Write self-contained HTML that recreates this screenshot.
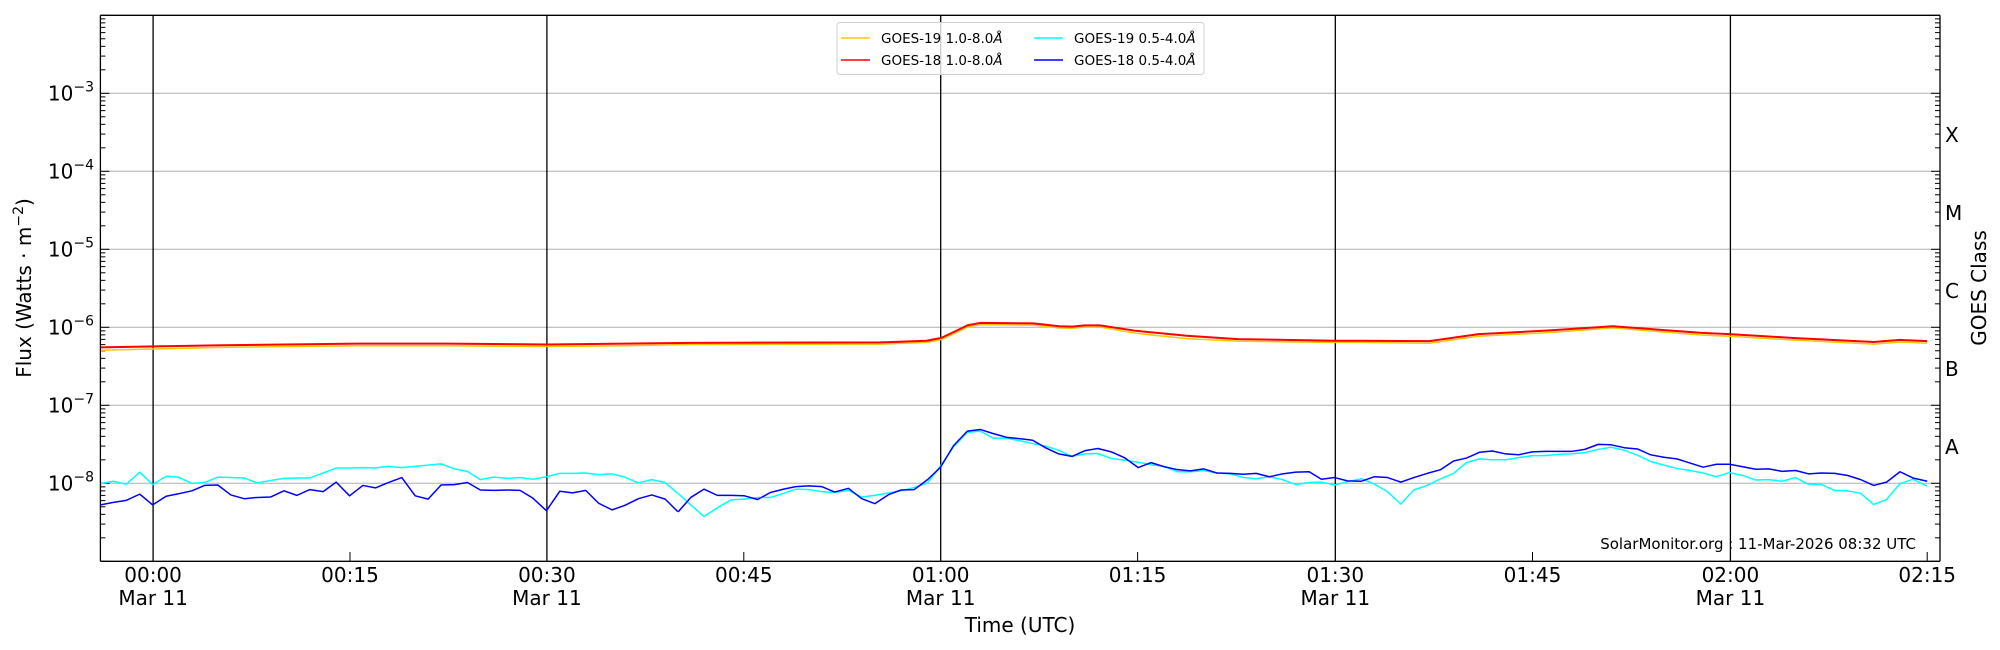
<!DOCTYPE html>
<html><head><meta charset="utf-8"><style>
html,body{margin:0;padding:0;background:#fff;}
svg{display:block;font-family:"DejaVu Sans","Liberation Sans",sans-serif;}
.ln{fill:none;vector-effect:non-scaling-stroke;stroke-linejoin:round;}
</style></head><body>
<svg id="s" width="2000" height="650" viewBox="0 0 2000 650" xmlns="http://www.w3.org/2000/svg">
<g id="grid" stroke="#b0b0b0" stroke-width="1"></g>
<g stroke="#000" stroke-width="1.3">
<line x1="153.1" y1="15.3" x2="153.1" y2="561.3"/><line x1="546.9" y1="15.3" x2="546.9" y2="561.3"/>
<line x1="940.7" y1="15.3" x2="940.7" y2="561.3"/><line x1="1335.3" y1="15.3" x2="1335.3" y2="561.3"/>
<line x1="1730.4" y1="15.3" x2="1730.4" y2="561.3"/>
</g>
<g id="ticks" stroke="#000" stroke-width="1"></g>
<g fill="none">
<polyline class="ln" stroke="#ffc800" stroke-width="1.5" transform="translate(0,0) scale(0.44643,0.41454)" points="225,845 500,838 800,834 1000,834 1225,836 1400,834 1546,831"/>
<polyline class="ln" stroke="#ffc800" stroke-width="1.5" transform="translate(600,0) scale(0.5102,0.41454)" points="176,831 550,830 640,826 669,819 695,804 720,789 745,783 850,784 900,791 925,792 950,789 980,789 1050,804 1150,817 1250,823 1440,826 1492,826"/>
<polyline class="ln" stroke="#ffc800" stroke-width="1.5" transform="translate(1300,0) scale(0.44643,0.41454)" points="137,826 290,828 400,811 560,802 700,791 900,808 962,811 1100,820 1285,830 1344,825 1405,828"/>
<polyline class="ln" stroke="#ff0000" stroke-width="2" transform="translate(0,0) scale(0.44643,0.41454)" points="225,838 500,833 800,829 1000,829 1225,831 1400,829 1546,827"/>
<polyline class="ln" stroke="#ff0000" stroke-width="2" transform="translate(600,0) scale(0.5102,0.41454)" points="176,827 550,826 640,822 669,815 695,800 720,785 745,779 850,780 900,787 925,788 950,785 980,785 1050,798 1150,810 1250,818 1440,822 1492,822"/>
<polyline class="ln" stroke="#ff0000" stroke-width="2" transform="translate(1300,0) scale(0.44643,0.41454)" points="137,822 290,823 400,806 560,797 700,787 900,803 962,806 1100,815 1285,825 1344,820 1405,823"/>
<polyline class="ln" stroke="#00ffff" stroke-width="1.5" transform="translate(0,0) scale(0.44643,0.41454)" points="225,1167 254,1161 283,1168 313,1139 342,1169 372,1149 400,1151 430,1166 458,1164 488,1151 517,1152 547,1153 576,1165 606,1159 636,1154 665,1153 694,1153 724,1141 753,1129 783,1129 813,1128 841,1129 870,1125 900,1128 930,1125 959,1122 988,1119 1018,1131 1047,1137 1076,1157 1106,1151 1137,1154 1165,1152 1194,1156 1224,1150 1254,1142 1283,1142 1312,1141 1341,1145 1371,1143 1400,1151 1430,1165 1460,1157 1490,1164 1518,1190"/>
<polyline class="ln" stroke="#00ffff" stroke-width="1.5" transform="translate(600,0) scale(0.5102,0.41454)" points="153,1190 178,1218 204,1246 230,1225 257,1206 283,1204 309,1200 334,1200 360,1190 384,1180 410,1181 435,1186 460,1188 487,1183 513,1199 539,1195 566,1189 590,1184 616,1176 642,1165 667,1125 693,1078 720,1043 745,1040 771,1057 797,1057 822,1063 848,1070 873,1076 899,1086 925,1101 951,1095 976,1094 1002,1106 1028,1110 1055,1115 1080,1121 1106,1125 1132,1138 1157,1138 1183,1135 1209,1141 1235,1143 1261,1152 1286,1155 1312,1150 1338,1157 1364,1169 1390,1164 1414,1163 1440,1170 1465,1162 1492,1155"/>
<polyline class="ln" stroke="#00ffff" stroke-width="1.5" transform="translate(1300,0) scale(0.44643,0.41454)" points="137,1154 167,1168 196,1186 226,1216 255,1182 285,1171 315,1155 344,1142 373,1116 402,1107 431,1109 461,1109 490,1104 520,1099 549,1099 578,1096 608,1095 638,1092 668,1084 697,1079 726,1086 756,1098 785,1113 815,1122 844,1130 874,1135 903,1141 933,1150 962,1140 992,1147 1021,1158 1050,1157 1080,1161 1110,1152 1139,1168 1168,1169 1198,1183 1227,1184 1256,1190 1285,1217 1314,1205 1344,1167 1373,1156 1405,1173"/>
<polyline class="ln" stroke="#0000ff" stroke-width="1.5" transform="translate(0,0) scale(0.44643,0.41454)" points="225,1218 254,1212 283,1207 313,1192 342,1218 372,1197 400,1191 430,1184 458,1171 488,1170 517,1194 547,1203 576,1200 606,1199 636,1184 665,1195 694,1181 724,1186 753,1163 783,1196 813,1171 841,1177 870,1164 900,1152 930,1196 959,1204 988,1170 1018,1169 1047,1164 1076,1182 1106,1183 1137,1182 1165,1183 1194,1202 1224,1232 1254,1185 1283,1189 1312,1183 1341,1214 1371,1230 1400,1219 1430,1203 1460,1194 1490,1204 1518,1234"/>
<polyline class="ln" stroke="#0000ff" stroke-width="1.5" transform="translate(600,0) scale(0.5102,0.41454)" points="153,1235 178,1200 204,1180 230,1195 257,1195 283,1196 309,1205 334,1188 360,1180 384,1174 410,1172 435,1174 460,1187 487,1178 513,1203 539,1215 566,1193 590,1182 616,1181 642,1157 667,1128 693,1075 720,1040 745,1036 771,1046 797,1055 822,1058 848,1062 873,1080 899,1095 925,1101 951,1087 976,1082 1002,1090 1028,1104 1055,1128 1080,1116 1106,1126 1132,1133 1157,1136 1183,1131 1209,1141 1235,1142 1261,1144 1286,1142 1312,1150 1338,1143 1364,1139 1390,1138 1414,1156 1440,1152 1465,1160 1492,1161"/>
<polyline class="ln" stroke="#0000ff" stroke-width="1.5" transform="translate(1300,0) scale(0.44643,0.41454)" points="137,1161 167,1150 196,1152 226,1163 255,1152 285,1142 315,1133 344,1112 373,1105 402,1091 431,1088 461,1095 490,1097 520,1090 549,1089 578,1089 608,1089 638,1084 668,1072 697,1073 726,1080 756,1083 785,1097 815,1103 844,1107 874,1117 903,1127 933,1120 962,1120 992,1126 1021,1132 1050,1131 1080,1137 1110,1135 1139,1143 1168,1141 1198,1142 1227,1147 1256,1157 1285,1171 1314,1163 1344,1138 1373,1153 1405,1161"/>
</g>
<g stroke="#000" stroke-width="1.3">
<line x1="100.4" y1="15.3" x2="100.4" y2="561.3"/>
<line x1="1940" y1="15.3" x2="1940" y2="561.3"/>
<line x1="100.4" y1="15.3" x2="1940" y2="15.3"/>
<line x1="100.4" y1="561.3" x2="1940" y2="561.3"/>
</g>
<rect x="837" y="22.5" width="367" height="52" rx="3" fill="#fff" fill-opacity="0.8" stroke="#d0d0d0"/>
<g stroke-width="1.5">
<line x1="841" y1="38" x2="870" y2="38" stroke="#ffc800"/>
<line x1="841" y1="60" x2="870" y2="60" stroke="#ff0000"/>
<line x1="1034" y1="38" x2="1063" y2="38" stroke="#00ffff"/>
<line x1="1034" y1="60" x2="1063" y2="60" stroke="#0000ff"/>
</g>
<g font-size="13.5" fill="#000">
<text x="881" y="43">GOES-19 1.0-8.0<tspan font-style="italic">Å</tspan></text>
<text x="881" y="65">GOES-18 1.0-8.0<tspan font-style="italic">Å</tspan></text>
<text x="1074" y="43">GOES-19 0.5-4.0<tspan font-style="italic">Å</tspan></text>
<text x="1074" y="65">GOES-18 0.5-4.0<tspan font-style="italic">Å</tspan></text>
</g>
<g id="ylab" font-size="20" fill="#000"></g>
<g font-size="20" fill="#000" text-anchor="middle">
<text x="153.1" y="582">00:00</text><text x="153.1" y="605">Mar 11</text>
<text x="350" y="582">00:15</text>
<text x="546.9" y="582">00:30</text><text x="546.9" y="605">Mar 11</text>
<text x="743.8" y="582">00:45</text>
<text x="940.7" y="582">01:00</text><text x="940.7" y="605">Mar 11</text>
<text x="1137.6" y="582">01:15</text>
<text x="1335.3" y="582">01:30</text><text x="1335.3" y="605">Mar 11</text>
<text x="1532.5" y="582">01:45</text>
<text x="1730.4" y="582">02:00</text><text x="1730.4" y="605">Mar 11</text>
<text x="1927.2" y="582">02:15</text>
<text x="1020" y="632">Time (UTC)</text>
<text transform="translate(31,288) rotate(-90)">Flux (Watts · m<tspan font-size="14" dy="-8">−2</tspan><tspan dy="8">)</tspan></text>
<text transform="translate(1986,288) rotate(-90)">GOES Class</text>
</g>
<g font-size="20" fill="#000">
<text x="1945" y="142">X</text><text x="1945" y="220">M</text><text x="1945" y="298">C</text>
<text x="1945" y="376">B</text><text x="1945" y="454">A</text>
</g>
<text x="1916" y="549" font-size="15" text-anchor="end" fill="#000">SolarMonitor.org : 11-Mar-2026 08:32 UTC</text>
</svg>
<script>
var NS="http://www.w3.org/2000/svg";
function el(p,t,a){var e=document.createElementNS(NS,t);for(var k in a)e.setAttribute(k,a[k]);p.appendChild(e);return e;}
var g=document.getElementById('grid'),tk=document.getElementById('ticks'),yl=document.getElementById('ylab');
function Y(k){return 15.3+(k-2)*78.0;}
for(var k=3;k<=8;k++){el(g,'line',{x1:100.4,x2:1940,y1:Y(k),y2:Y(k)});
 var t=el(yl,'text',{x:94,y:Y(k)+7,'text-anchor':'end'});
 t.innerHTML='10<tspan font-size="14" dy="-9">−'+k+'</tspan>';}
for(var k=2;k<=9;k++){for(var m=1;m<=9;m++){if(k==2&&m>1)continue;var y=Y(k)-Math.log10(m)*78;if(y<15||y>562)continue;
 var L=m==1?9:5;el(tk,'line',{x1:100.4,x2:100.4+L,y1:y,y2:y});el(tk,'line',{x1:1940,x2:1940-L,y1:y,y2:y});}}
[350,743.8,1137.6,1532.5,1927.2].forEach(function(x){el(tk,'line',{x1:x,x2:x,y1:561.3,y2:552});});
</script>
</body></html>
